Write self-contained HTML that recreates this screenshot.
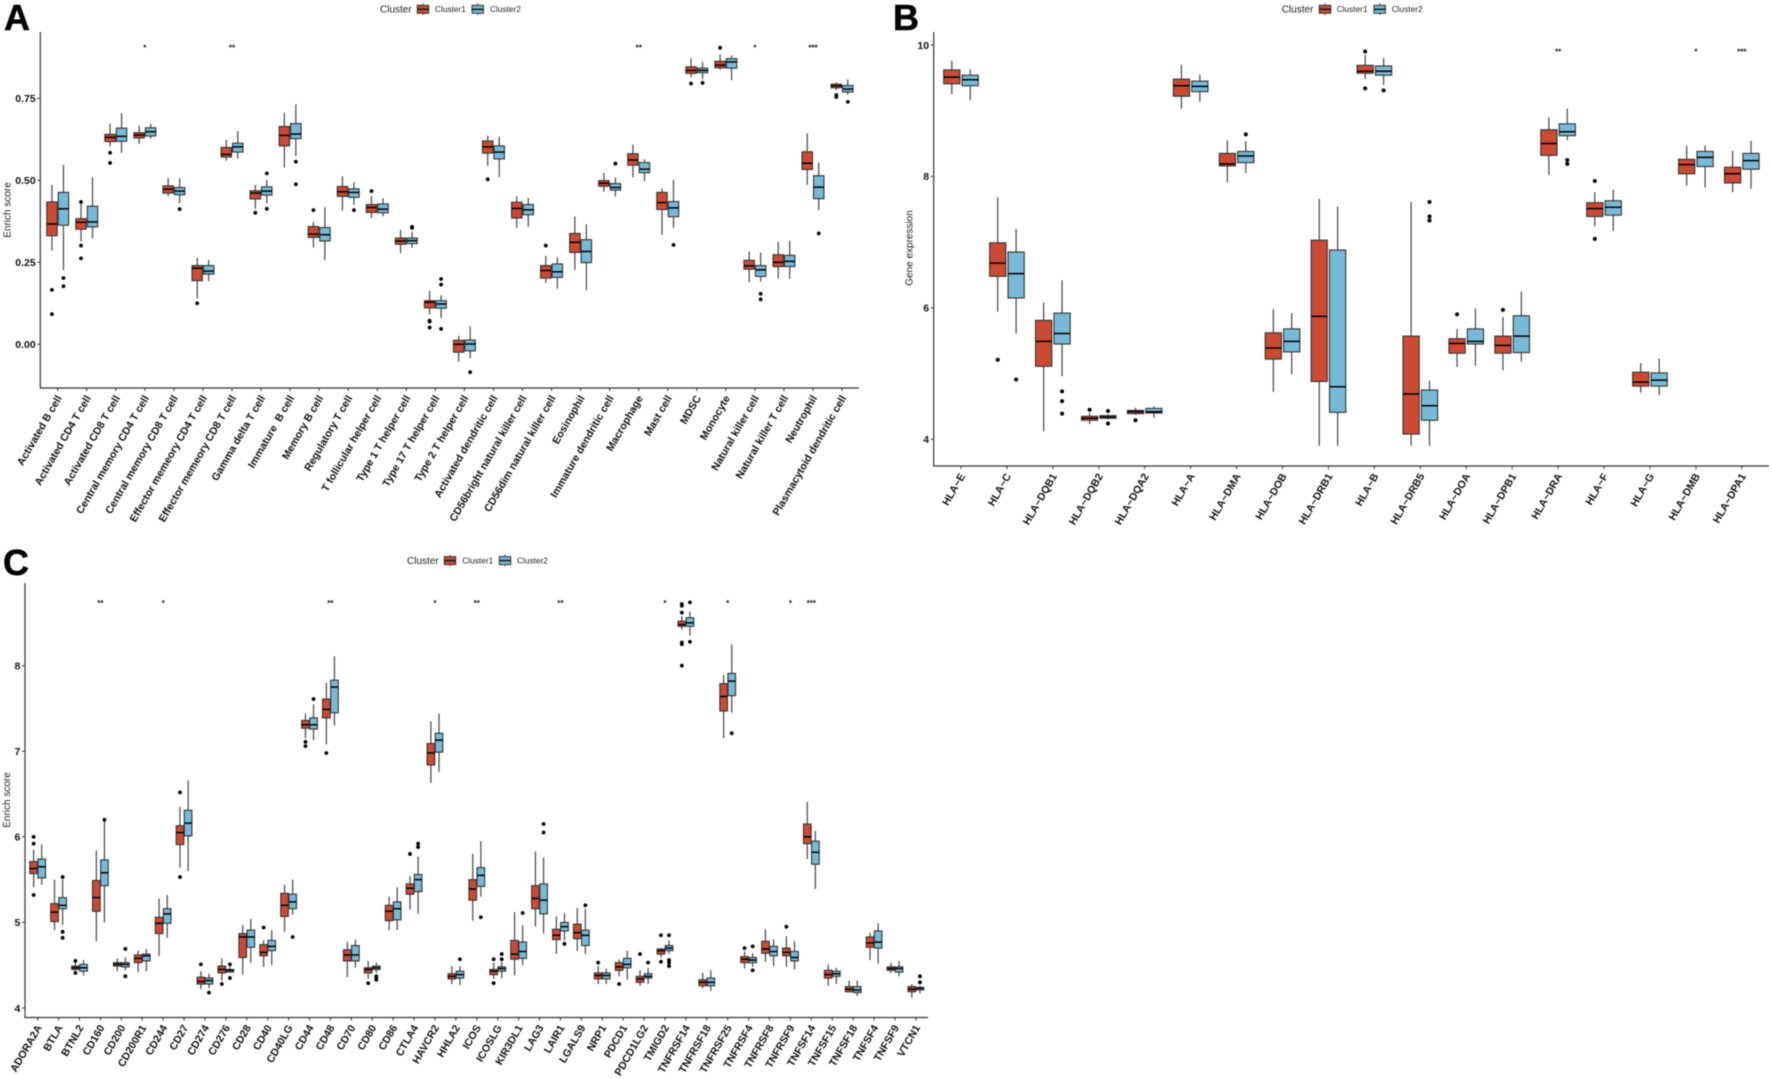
<!DOCTYPE html>
<html lang="en">
<head>
<meta charset="utf-8">
<title>Boxplots of immune cells, HLA genes and immune checkpoints by cluster</title>
<style>
html,body{margin:0;padding:0;background:#fff;width:1772px;height:1079px;overflow:hidden}
svg{display:block;font-family:"Liberation Sans",sans-serif;filter:blur(.45px)}
.xl{font-size:10.6px;font-weight:bold;fill:#111;white-space:pre}
.yl{font-size:10.5px;font-weight:bold;fill:#111}
.yt{font-size:10px;fill:#222}
.lt{font-size:10px;fill:#222}
.ll{font-size:8.3px;fill:#222}
.pl{font-size:36px;font-weight:bold;fill:#000;stroke:#000;stroke-width:.5px}
.st{font-size:8px;font-weight:bold;fill:#111}
</style>
</head>
<body>
<svg id="fig" xmlns="http://www.w3.org/2000/svg" width="1772" height="1079" viewBox="0 0 1772 1079">
  <text class="pl" x="4" y="30">A</text>
  <text class="pl" x="893" y="30">B</text>
  <text class="pl" x="3" y="575">C</text>

  <g>
    <text class="lt" x="380" y="12.5">Cluster</text>
    <g>
      <line x1="423" x2="423" y1="3.3" y2="15" stroke="#444"/><rect x="417.3" y="5.3" width="11.4" height="8" fill="#CB4A33" stroke="#333"/><line x1="417.3" x2="428.7" y1="9.3" y2="9.3" stroke="#111" stroke-width="1.4"/>
      <text class="ll" x="435" y="12">Cluster1</text>
    </g>
    <g>
      <line x1="477.7" x2="477.7" y1="3.3" y2="15" stroke="#444"/><rect x="472" y="5.3" width="11.4" height="8" fill="#76BAD7" stroke="#333"/><line x1="472" x2="483.4" y1="9.3" y2="9.3" stroke="#111" stroke-width="1.4"/>
      <text class="ll" x="490" y="12">Cluster2</text>
    </g>
  </g>
  <g>
    <text class="lt" x="1281.7" y="12.5">Cluster</text>
    <g>
      <line x1="1325" x2="1325" y1="3.3" y2="15" stroke="#444"/><rect x="1319.3" y="5.3" width="11.4" height="8" fill="#CB4A33" stroke="#333"/><line x1="1319.3" x2="1330.7" y1="9.3" y2="9.3" stroke="#111" stroke-width="1.4"/>
      <text class="ll" x="1336.7" y="12">Cluster1</text>
    </g>
    <g>
      <line x1="1379.7" x2="1379.7" y1="3.3" y2="15" stroke="#444"/><rect x="1374" y="5.3" width="11.4" height="8" fill="#76BAD7" stroke="#333"/><line x1="1374" x2="1385.4" y1="9.3" y2="9.3" stroke="#111" stroke-width="1.4"/>
      <text class="ll" x="1391.7" y="12">Cluster2</text>
    </g>
  </g>
  <g>
    <text class="lt" x="407" y="564">Cluster</text>
    <g>
      <line x1="450" x2="450" y1="554.6" y2="566.4" stroke="#444"/><rect x="444.3" y="556.6" width="11.4" height="8" fill="#CB4A33" stroke="#333"/><line x1="444.3" x2="455.7" y1="560.6" y2="560.6" stroke="#111" stroke-width="1.4"/>
      <text class="ll" x="462.3" y="563.5">Cluster1</text>
    </g>
    <g>
      <line x1="505" x2="505" y1="554.6" y2="566.4" stroke="#444"/><rect x="499.3" y="556.6" width="11.4" height="8" fill="#76BAD7" stroke="#333"/><line x1="499.3" x2="510.7" y1="560.6" y2="560.6" stroke="#111" stroke-width="1.4"/>
      <text class="ll" x="517" y="563.5">Cluster2</text>
    </g>
  </g>
</svg>
<script>
/* Box values are [lower whisker, Q1, median, Q3, upper whisker, [outliers]] */

/* ---------- Panel A ---------- */
const categoriesA = ["Activated B cell","Activated CD4 T cell","Activated CD8 T cell","Central memory CD4 T cell","Central memory CD8 T cell","Effector memeory CD4 T cell","Effector memeory CD8 T cell","Gamma delta T cell","Immature  B cell","Memory B cell","Regulatory T cell","T follicular helper cell","Type 1 T helper cell","Type 17 T helper cell","Type 2 T helper cell","Activated dendritic cell","CD56bright natural killer cell","CD56dim natural killer cell","Eosinophil","Immature dendritic cell","Macrophage","Mast cell","MDSC","Monocyte","Natural killer cell","Natural killer T cell","Neutrophil","Plasmacytoid dendritic cell"];
const cluster1A = [
[.286,.331,.367,.434,.486,[.166,.092]],[.314,.351,.372,.383,.428,[.434,.301,.262]],[.603,.618,.631,.640,.673,[.584,.553]],[.611,.629,.638,.645,.666,[]],
[.452,.461,.473,.483,.507,[]],[.140,.194,.232,.240,.264,[.125]],[.560,.571,.579,.600,.623,[]],[.413,.443,.461,.468,.486,[.401]],
[.539,.605,.637,.664,.706,[]],[.295,.326,.336,.359,.373,[.409]],[.408,.451,.465,.481,.512,[]],[.385,.402,.417,.426,.453,[.467]],
[.278,.305,.315,.324,.349,[]],[.091,.111,.128,.133,.163,[.072,.069,.051]],[-.053,-.024,0,.012,.026,[]],[.545,.583,.602,.620,.636,[.503]],
[.355,.385,.414,.433,.451,[]],[.187,.202,.225,.240,.270,[.301]],[.226,.280,.311,.338,.390,[]],[.465,.482,.491,.499,.523,[]],
[.509,.546,.562,.581,.609,[]],[.334,.411,.432,.463,.475,[]],[.814,.826,.835,.846,.872,[.795]],[.837,.843,.851,.863,.884,[.904]],
[.189,.229,.239,.256,.283,[]],[.201,.237,.250,.273,.312,[]],[.486,.533,.552,.587,.643,[]],[.775,.782,.788,.793,.799,[.760,.754]]];
const cluster2A = [
[.225,.363,.413,.463,.547,[.202,.177]],[.323,.358,.373,.421,.510,[]],[.584,.619,.634,.659,.704,[]],[.627,.635,.648,.660,.672,[]],
[.430,.456,.467,.478,.506,[.412]],[.192,.214,.223,.240,.257,[]],[.566,.586,.602,.613,.650,[]],[.430,.455,.467,.480,.501,[.521,.413]],
[.574,.627,.641,.673,.732,[.557,.488]],[.256,.315,.334,.356,.418,[]],[.425,.448,.463,.474,.494,[.409]],[.390,.401,.412,.428,.445,[]],
[.294,.307,.316,.324,.343,[.358,.355]],[.080,.110,.123,.133,.149,[.199,.182,.047]],[-.042,-.020,.001,.013,.055,[-.085]],[.510,.565,.586,.605,.633,[]],
[.358,.395,.410,.426,.446,[]],[.170,.204,.221,.245,.266,[]],[.165,.249,.283,.319,.366,[]],[.451,.470,.478,.490,.508,[.551]],
[.497,.523,.534,.554,.564,[]],[.355,.389,.416,.435,.501,[.303]],[.808,.828,.835,.842,.861,[.797]],[.805,.842,.861,.871,.881,[]],
[.191,.207,.227,.240,.279,[.154,.137]],[.200,.237,.253,.271,.315,[]],[.409,.444,.479,.514,.554,[.338]],[.761,.769,.778,.789,.808,[.739]]];
const significanceA = ["","","","*","","","**","","","","","","","","","","","","","","**","","","","*","","***",""];
const tickValuesA = [0,0.25,0.5,0.75];
const tickLabelsA = ["0.00","0.25","0.50","0.75"];

/* ---------- Panel B ---------- */
const categoriesB = ["HLA~E","HLA~C","HLA~DQB1","HLA~DQB2","HLA~DQA2","HLA~A","HLA~DMA","HLA~DOB","HLA~DRB1","HLA~B","HLA~DRB5","HLA~DOA","HLA~DPB1","HLA~DRA","HLA~F","HLA~G","HLA~DMB","HLA~DPA1"];
const cluster1B = [
[9.25,9.41,9.51,9.62,9.76,[]],[5.94,6.48,6.68,6.99,7.68,[5.21]],[4.12,5.11,5.49,5.81,6.08,[]],[4.23,4.29,4.32,4.35,4.40,[4.45]],
[4.37,4.39,4.42,4.44,4.48,[4.29]],[9.03,9.22,9.38,9.48,9.70,[]],[7.91,8.16,8.19,8.35,8.55,[]],[4.72,5.22,5.39,5.62,5.98,[]],
[3.90,4.88,5.87,7.03,7.66,[]],[9.48,9.57,9.60,9.69,9.85,[9.90,9.34]],[3.90,4.08,4.69,5.57,7.61,[]],[5.10,5.31,5.46,5.53,5.68,[5.90]],
[5.05,5.31,5.43,5.57,5.86,[5.97]],[8.02,8.32,8.50,8.71,8.90,[]],[7.24,7.39,7.51,7.60,7.76,[7.93,7.05]],[4.71,4.81,4.87,5.02,5.16,[]],
[7.86,8.04,8.18,8.26,8.47,[]],[7.76,7.90,8.04,8.14,8.39,[]]];
const cluster2B = [
[9.16,9.38,9.47,9.54,9.63,[]],[5.61,6.15,6.52,6.85,7.20,[4.91]],[4.96,5.45,5.61,5.92,6.42,[4.73,4.58,4.39]],[4.30,4.32,4.34,4.36,4.38,[4.43,4.24]],
[4.33,4.40,4.42,4.47,4.50,[]],[9.13,9.29,9.37,9.45,9.55,[]],[8.05,8.21,8.31,8.38,8.54,[8.64]],[4.99,5.33,5.49,5.68,5.92,[]],
[3.90,4.41,4.80,6.88,7.54,[]],[9.39,9.54,9.60,9.68,9.80,[9.31]],[3.90,4.29,4.51,4.75,4.89,[7.61,7.39,7.33]],[5.12,5.45,5.49,5.68,5.99,[]],
[5.18,5.32,5.57,5.88,6.25,[]],[8.55,8.62,8.68,8.80,9.03,[8.25,8.19]],[7.17,7.41,7.53,7.63,7.80,[]],[4.67,4.81,4.90,5.01,5.23,[]],
[7.83,8.15,8.29,8.38,8.47,[]],[7.81,8.11,8.24,8.35,8.54,[]]];
const significanceB = ["","","","","","","","","","","","","","**","","","*","***"];
const tickValuesB = [4,6,8,10];
const tickLabelsB = ["4","6","8","10"];

/* ---------- Panel C ---------- */
const categoriesC = ["ADORA2A","BTLA","BTNL2","CD160","CD200","CD200R1","CD244","CD27","CD274","CD276","CD28","CD40","CD40LG","CD44","CD48","CD70","CD80","CD86","CTLA4","HAVCR2","HHLA2","ICOS","ICOSLG","KIR3DL1","LAG3","LAIR1","LGALS9","NRP1","PDCD1","PDCD1LG2","TMIGD2","TNFRSF14","TNFRSF18","TNFRSF25","TNFRSF4","TNFRSF8","TNFRSF9","TNFSF14","TNFSF15","TNFSF18","TNFSF4","TNFSF9","VTCN1"];
const cluster1C = [
[5.41,5.57,5.63,5.71,5.85,[6.00,5.92,5.32]],[4.91,5.01,5.12,5.22,5.50,[]],[4.44,4.45,4.47,4.49,4.53,[4.55,4.41]],[4.78,5.13,5.29,5.49,5.84,[]],
[4.43,4.49,4.51,4.53,4.58,[]],[4.42,4.53,4.58,4.62,4.67,[]],[4.61,4.87,4.99,5.06,5.28,[]],[5.64,5.91,6.05,6.13,6.35,[6.52,5.53]],
[4.22,4.28,4.31,4.36,4.43,[4.51]],[4.32,4.41,4.45,4.49,4.58,[4.28]],[4.39,4.59,4.83,4.87,4.97,[]],[4.48,4.61,4.65,4.74,4.79,[4.94]],
[4.89,5.07,5.20,5.34,5.44,[]],[7.15,7.27,7.31,7.36,7.44,[7.11,7.06]],[7.08,7.39,7.49,7.61,7.80,[6.98]],[4.36,4.55,4.62,4.68,4.77,[]],
[4.34,4.41,4.45,4.47,4.55,[4.29]],[4.91,5.02,5.13,5.20,5.30,[]],[5.15,5.33,5.40,5.45,5.54,[5.80]],[6.63,6.84,6.98,7.09,7.35,[]],
[4.28,4.34,4.37,4.40,4.49,[]],[5.02,5.26,5.39,5.50,5.80,[]],[4.34,4.39,4.43,4.45,4.53,[4.57,4.29]],[4.38,4.57,4.63,4.79,5.12,[]],
[4.95,5.16,5.28,5.43,5.83,[]],[4.63,4.80,4.85,4.92,5.07,[]],[4.67,4.81,4.88,4.98,5.17,[]],[4.28,4.34,4.38,4.41,4.49,[4.53]],
[4.37,4.44,4.48,4.53,4.57,[4.28]],[4.26,4.30,4.34,4.37,4.44,[4.63]],[4.59,4.63,4.67,4.69,4.70,[4.85,4.54]],[8.42,8.46,8.48,8.52,8.58,[8.72,8.70,8.62,8.27,8.25,8.00]],
[4.23,4.26,4.30,4.33,4.41,[]],[7.15,7.47,7.64,7.79,7.89,[]],[4.46,4.53,4.57,4.60,4.66,[4.70]],[4.54,4.64,4.69,4.78,4.92,[]],
[4.48,4.61,4.65,4.70,4.84,[4.95]],[5.74,5.92,6.00,6.15,6.41,[]],[4.26,4.35,4.39,4.44,4.51,[]],[4.18,4.19,4.22,4.25,4.32,[]],
[4.56,4.71,4.76,4.83,4.88,[]],[4.41,4.44,4.46,4.48,4.53,[]],[4.12,4.19,4.22,4.25,4.28,[]]];
const cluster2C = [
[5.44,5.52,5.65,5.74,5.91,[]],[4.97,5.16,5.20,5.29,5.50,[5.53,4.89,4.82]],[4.38,4.43,4.47,4.51,4.56,[]],[5.00,5.43,5.58,5.73,6.18,[6.20]],
[4.44,4.48,4.51,4.53,4.59,[4.69,4.37]],[4.43,4.55,4.61,4.63,4.69,[]],[4.82,4.99,5.10,5.16,5.32,[]],[5.60,6.01,6.16,6.31,6.66,[]],
[4.23,4.28,4.32,4.35,4.40,[4.18]],[4.41,4.42,4.44,4.45,4.48,[4.51,4.35]],[4.53,4.71,4.83,4.91,5.04,[]],[4.50,4.67,4.72,4.79,4.91,[]],
[5.09,5.16,5.24,5.33,5.50,[4.83]],[7.13,7.26,7.31,7.39,7.55,[7.61]],[7.30,7.45,7.75,7.83,8.11,[]],[4.47,4.55,4.62,4.73,4.80,[]],
[4.41,4.45,4.47,4.49,4.53,[4.37,4.35,4.33]],[4.91,5.03,5.16,5.24,5.41,[]],[5.10,5.36,5.50,5.56,5.77,[5.92,5.88]],[6.76,6.99,7.13,7.21,7.44,[]],
[4.27,4.35,4.39,4.43,4.49,[4.57]],[5.30,5.42,5.55,5.64,5.95,[5.06]],[4.35,4.43,4.46,4.48,4.54,[4.63,4.57]],[4.50,4.58,4.66,4.77,4.97,[5.11]],
[4.87,5.10,5.26,5.45,5.76,[6.15,6.05]],[4.79,4.90,4.95,5.00,5.11,[4.75]],[4.63,4.73,4.85,4.91,5.16,[5.20]],[4.28,4.34,4.38,4.41,4.46,[]],
[4.33,4.47,4.51,4.58,4.67,[]],[4.28,4.35,4.37,4.40,4.47,[4.53]],[4.63,4.67,4.70,4.73,4.79,[4.85,4.56,4.53,4.49]],[8.35,8.46,8.50,8.56,8.63,[8.74,8.28]],
[4.20,4.26,4.30,4.35,4.44,[]],[7.45,7.65,7.82,7.91,8.25,[7.21]],[4.48,4.53,4.56,4.59,4.64,[4.72,4.44]],[4.49,4.61,4.66,4.72,4.80,[]],
[4.45,4.55,4.59,4.66,4.78,[]],[5.39,5.68,5.82,5.95,6.07,[]],[4.28,4.37,4.40,4.43,4.47,[]],[4.14,4.18,4.21,4.25,4.32,[]],
[4.52,4.70,4.77,4.90,4.99,[]],[4.37,4.42,4.46,4.48,4.55,[]],[4.17,4.21,4.23,4.24,4.26,[4.37,4.30]]];
const significanceC = ["","","","**","","","*","","","","","","","","**","","","","","*","","**","","","","**","","","","","*","","","*","","","*","***","","","","",""];
const tickValuesC = [4,5,6,7,8];
const tickLabelsC = ["4","5","6","7","8"];

const NS = "http://www.w3.org/2000/svg";
const root = document.getElementById("fig");
const COL1 = "#CB4A33", COL2 = "#76BAD7", AXIS = "#333";

function mk(tag, attrs, parent) {
  const el = document.createElementNS(NS, tag);
  for (const k in attrs) el.setAttribute(k, attrs[k]);
  parent.appendChild(el);
  return el;
}

function drawBox(parent, box, cx, w, fill, y, seriesName, catName, r) {
  const g = mk("g", {}, parent);
  
  

  const whisker = mk("line", {x1: cx, x2: cx, y1: y(box[0]), y2: y(box[4]), stroke: "#444", "stroke-width": 1.2}, g);
  
  

  const rect = mk("rect", {x: cx - w / 2, y: y(box[3]), width: w, height: y(box[1]) - y(box[3]), fill: fill, stroke: AXIS, "stroke-width": 1.1}, g);
  
  

  const med = mk("line", {x1: cx - w / 2, x2: cx + w / 2, y1: y(box[2]), y2: y(box[2]), stroke: "#000", "stroke-width": 1.5}, g);
  
  

  box[5].forEach(function (v) {
    const dot = mk("circle", {cx: cx, cy: y(v), r: r, fill: "#000"}, g);
    
    
  });
}

function drawPanel(cfg) {
  const g = mk("g", {}, root);
  
  

  const x = function (i) { return cfg.x0 + i * cfg.dx; };
  const y = function (v) { return cfg.yRef - (v - cfg.vRef) * cfg.pxPerUnit; };

  const yAxis = mk("line", {x1: cfg.left, x2: cfg.left, y1: cfg.top, y2: cfg.bottom + .6, stroke: AXIS, "stroke-width": 1.2}, g);
  
  

  const xAxis = mk("line", {x1: cfg.left, x2: cfg.right, y1: cfg.bottom, y2: cfg.bottom, stroke: AXIS, "stroke-width": 1.2}, g);
  
  

  cfg.tickValues.forEach(function (v, i) {
    const t = mk("line", {x1: cfg.left - 3, x2: cfg.left, y1: y(v), y2: y(v), stroke: AXIS, "stroke-width": 1}, g);
    
    

    const lab = mk("text", {class: "yl", x: cfg.left - 4.6, y: y(v) + 3.8, "text-anchor": "end"}, g);
    lab.textContent = cfg.tickLabels[i];
    
    
  });

  const title = mk("text", {class: "yt", "text-anchor": "middle", transform: "translate(" + cfg.titleX + "," + cfg.titleY + ") rotate(-90)"}, g);
  title.textContent = cfg.yTitle;
  
  

  cfg.categories.forEach(function (name, i) {
    const cx = x(i);
    const t = mk("line", {x1: cx, x2: cx, y1: cfg.bottom, y2: cfg.bottom + 3, stroke: AXIS, "stroke-width": 1}, g);
    
    

    const lab = mk("text", {class: "xl", "text-anchor": "end", transform: "translate(" + (cx + 4.5) + "," + (cfg.bottom + 10) + ") rotate(-60)"}, g);
    lab.textContent = name;
    
    

    drawBox(g, cfg.c1[i], cx - cfg.offset, cfg.boxW, COL1, y, 'cluster1', name, cfg.r);
    drawBox(g, cfg.c2[i], cx + cfg.offset, cfg.boxW, COL2, y, 'cluster2', name, cfg.r);

    if (cfg.sig[i]) {
      const s = mk("text", {class: "st", x: cx, y: cfg.sigY + 4.8, "text-anchor": "middle"}, g);
      s.textContent = cfg.sig[i];
      
      
    }
  });
}

drawPanel({name: "panel-a-immune-cells", categories: categoriesA, c1: cluster1A, c2: cluster2A, sig: significanceA,
  tickValues: tickValuesA, tickLabels: tickLabelsA, yTitle: "Enrich score",
  x0: 57.7, dx: 29.05, yRef: 344.3, vRef: 0, pxPerUnit: 328, left: 40.3, right: 859, top: 32, bottom: 388,
  offset: 5.75, boxW: 10.4, r: 1.9, sigY: 45.7, titleX: 10.5, titleY: 210});

drawPanel({name: "panel-b-hla-genes", categories: categoriesB, c1: cluster1B, c2: cluster2B, sig: significanceB,
  tickValues: tickValuesB, tickLabels: tickLabelsB, yTitle: "Gene expression",
  x0: 961, dx: 45.93, yRef: 439.3, vRef: 4, pxPerUnit: 65.72, left: 933.7, right: 1769, top: 32, bottom: 466,
  offset: 9.2, boxW: 16.2, r: 2, sigY: 49.7, titleX: 912.5, titleY: 248});

drawPanel({name: "panel-c-immune-checkpoints", categories: categoriesC, c1: cluster1C, c2: cluster2C, sig: significanceC,
  tickValues: tickValuesC, tickLabels: tickLabelsC, yTitle: "Enrich score",
  x0: 37.67, dx: 20.91, yRef: 1008, vRef: 4, pxPerUnit: 85.58, left: 25, right: 928, top: 583, bottom: 1017.5,
  offset: 4.05, boxW: 7.6, r: 1.9, sigY: 601, titleX: 10, titleY: 800});
</script>
</body>
</html>
